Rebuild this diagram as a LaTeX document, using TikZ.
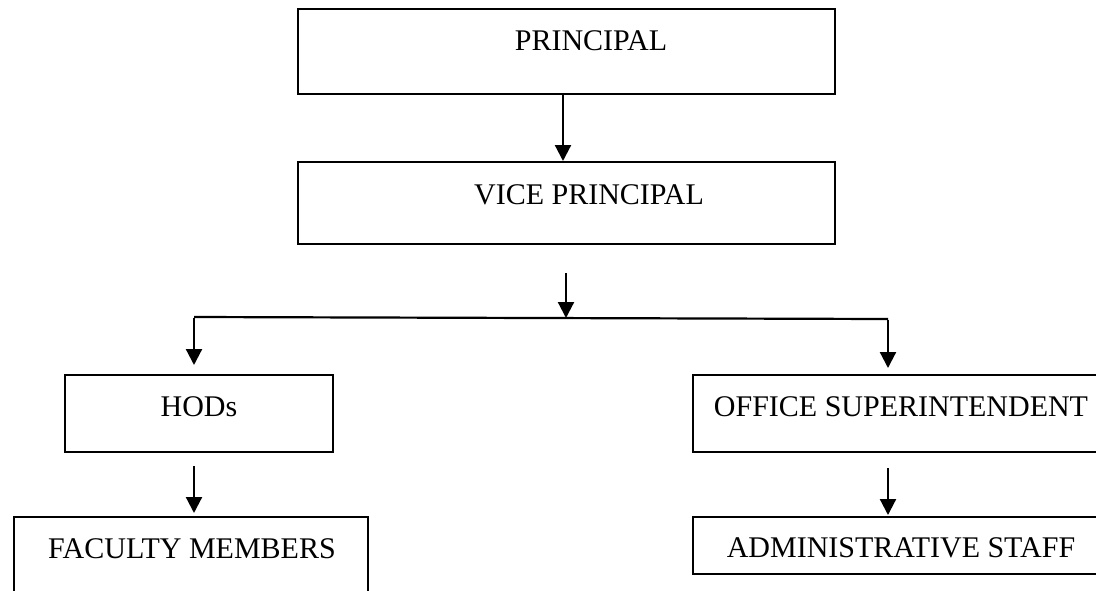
\documentclass[tikz,border=0pt]{standalone}
\usepackage{fontspec}
\setmainfont{Liberation Serif}
\usetikzlibrary{arrows.meta}
\begin{document}
\begin{tikzpicture}[x=1pt,y=-1pt,
  box/.style={draw, line width=2pt, rectangle, inner sep=0pt},
  lbl/.style={anchor=base, inner sep=0pt, font=\fontsize{30}{35}\selectfont},
  arr/.style={line width=2.2pt, -{Triangle[length=16pt,width=16pt]}},
  ln/.style={line width=2.2pt}]
\useasboundingbox (0,0) rectangle (1096,590);
\clip (0,0) rectangle (1096,590);
% boxes
\node[box, minimum width=537pt, minimum height=85pt] (P)   at (566.5,51.5) {};
\node[box, minimum width=537pt, minimum height=82pt] (VP)  at (566.5,203) {};
\node[box, minimum width=268pt, minimum height=77pt] (HOD) at (199,413.5) {};
\node[box, minimum width=354pt, minimum height=93pt] (FAC) at (191,563.5) {};
\node[box, minimum width=417pt, minimum height=77pt] (OS)  at (901.5,413.5) {};
\node[box, minimum width=417pt, minimum height=57pt] (AS)  at (901.5,545.5) {};
% labels
\node[lbl] (tP)   at (591,50)  {PRINCIPAL};
\node[lbl] (tVP)  at (589,204) {VICE PRINCIPAL};
\node[lbl] (tHOD) at (199,416) {HODs};
\node[lbl] (tFAC) at (192,558) {FACULTY MEMBERS};
\node[lbl] (tOS)  at (901,416) {OFFICE SUPERINTENDENT};
\node[lbl] (tAS)  at (901,557) {ADMINISTRATIVE STAFF};
% connectors
\draw[arr] ([xshift=-3.5pt]P.south) -- ([xshift=-3.5pt]VP.north);
\coordinate (vpout) at (566,273);
\coordinate (mid) at (566,318);
\coordinate (bl) at (194,317);
\coordinate (br) at (888,319);
\draw[arr] (vpout) -- (mid);
\draw[ln] (bl) -- (br);
\draw[arr, shorten >=9pt] ([yshift=-1.1pt]bl) -- (bl |- HOD.north);
\draw[arr, shorten >=6pt] ([yshift=-1.1pt]br) -- (br |- OS.north);
\draw[arr, shorten <=13pt, shorten >=3pt] (bl |- HOD.south) -- (bl |- FAC.north);
\draw[arr, shorten <=15pt, shorten >=1pt] (br |- OS.south) -- (br |- AS.north);
\end{tikzpicture}
\end{document}
